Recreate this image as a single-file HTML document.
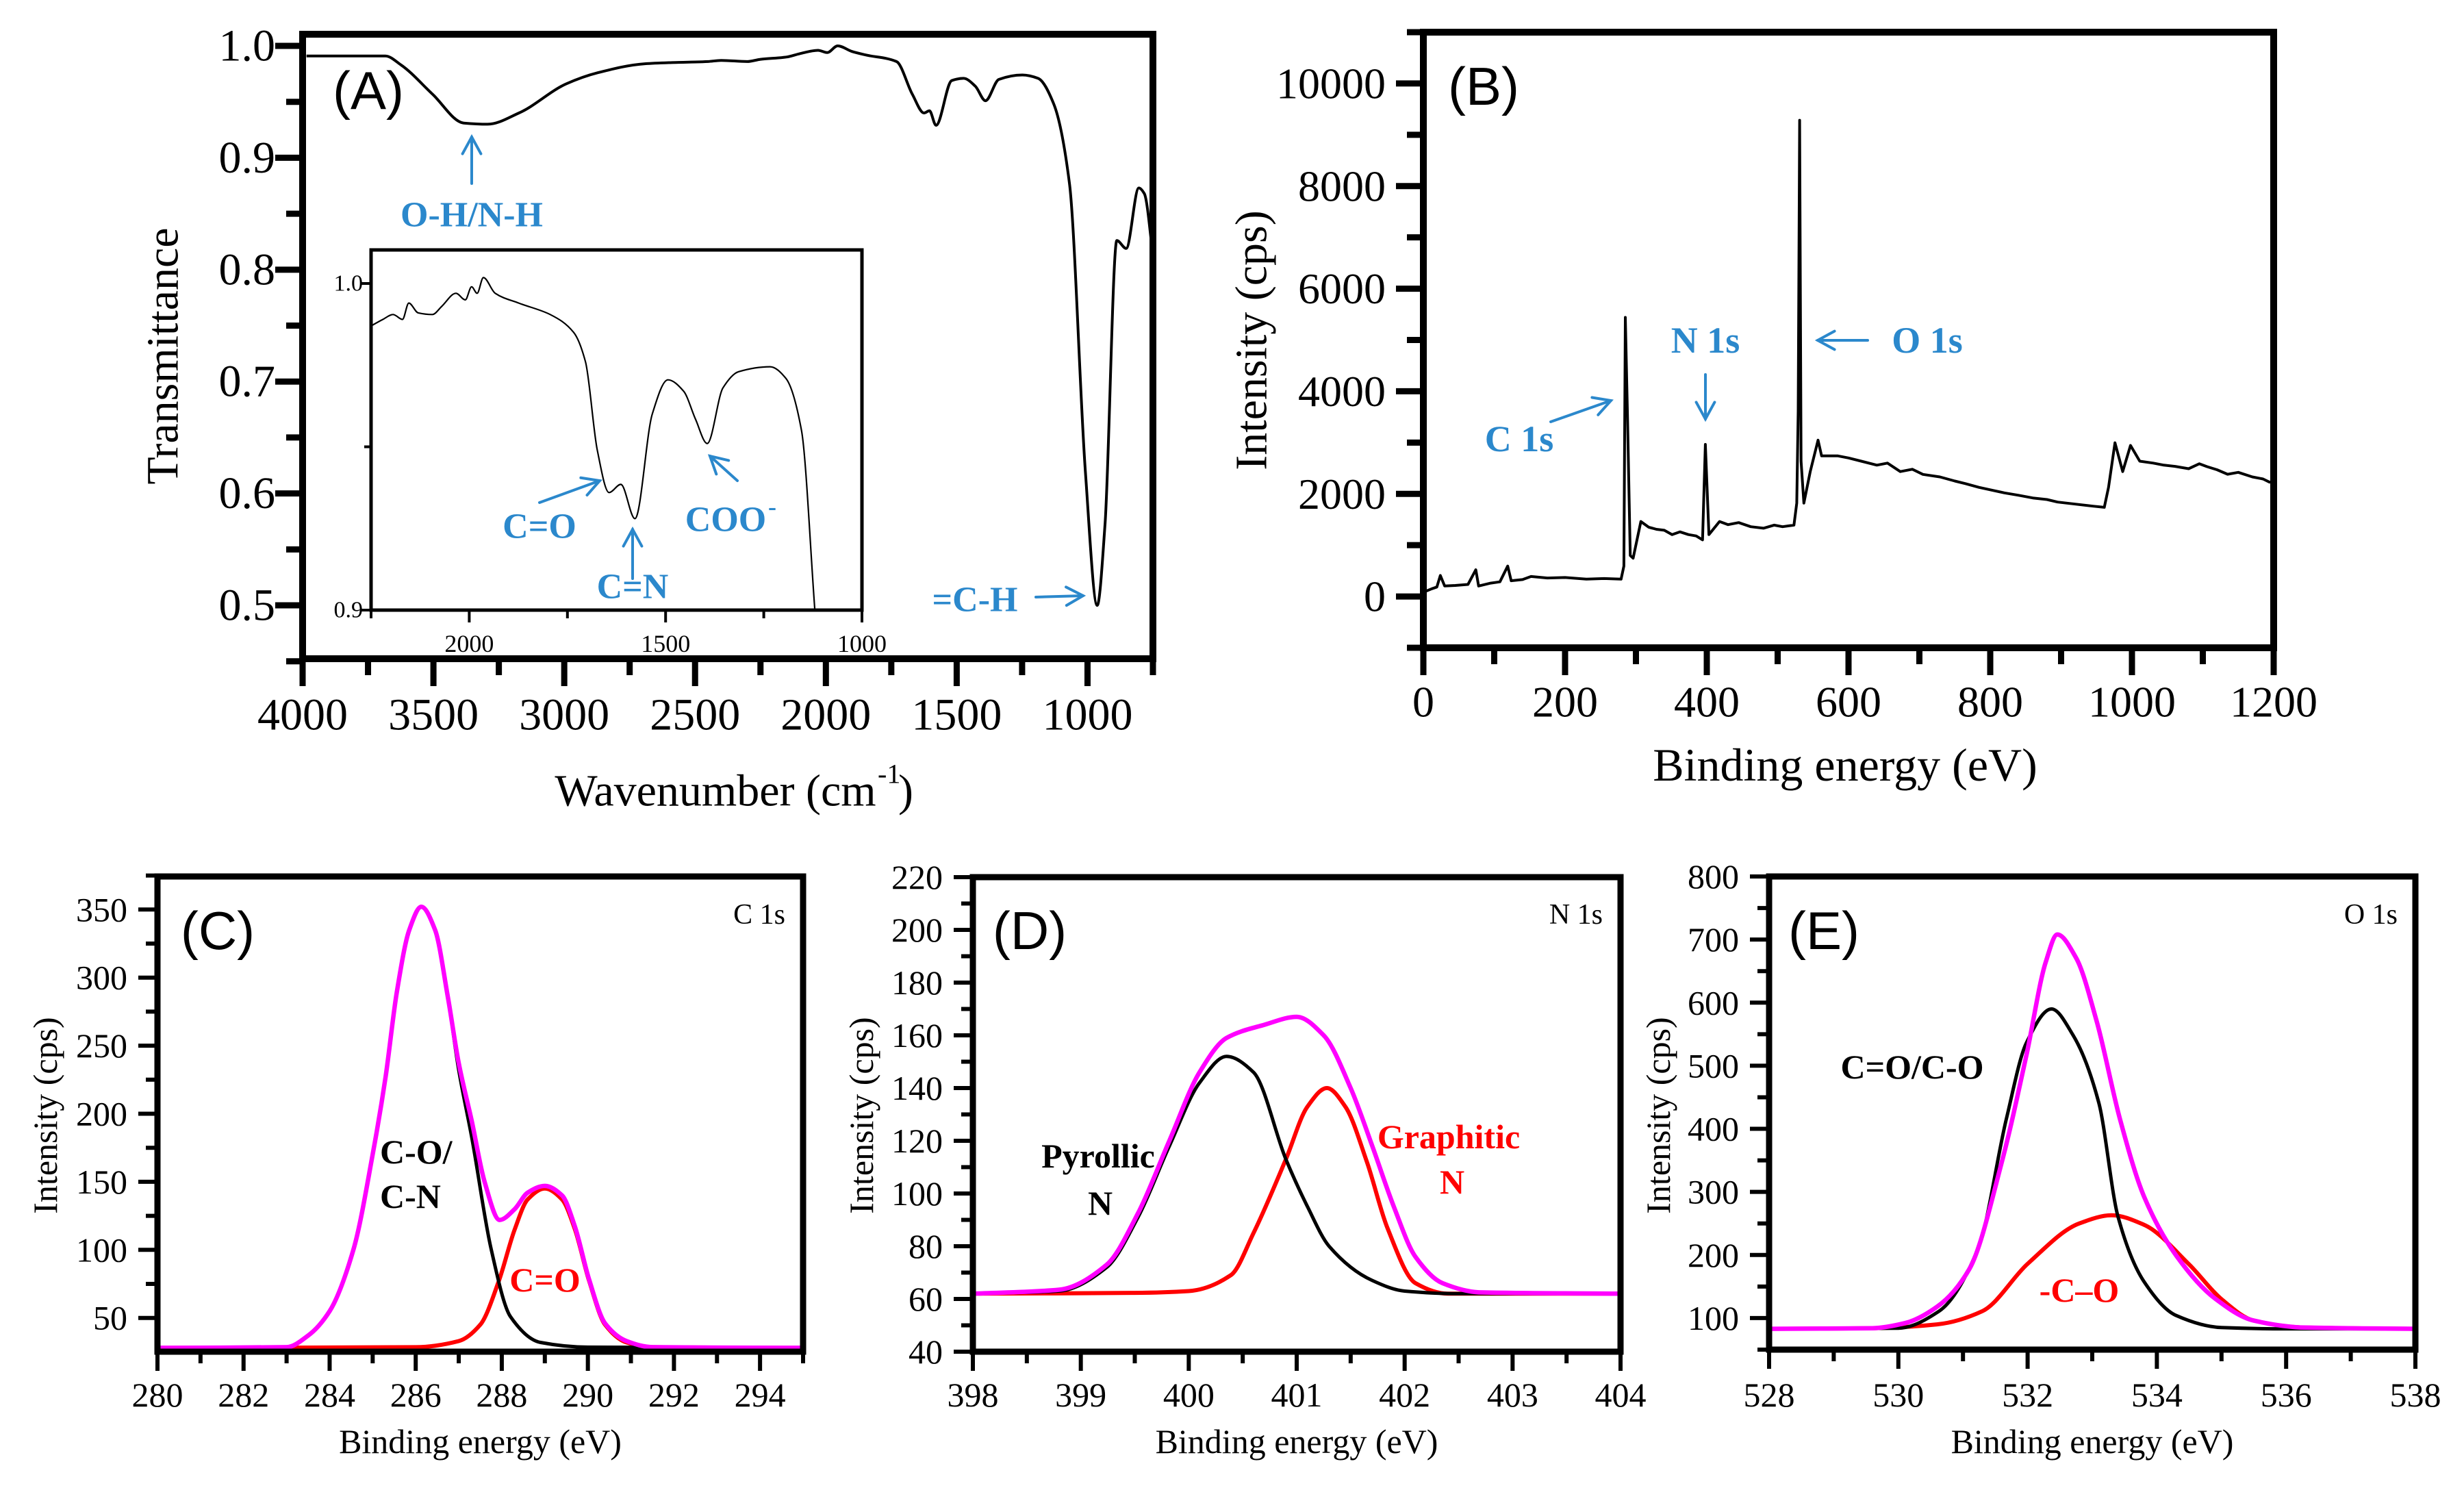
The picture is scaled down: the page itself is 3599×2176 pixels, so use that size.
<!DOCTYPE html>
<html><head><meta charset="utf-8">
<style>
html,body{margin:0;padding:0;background:#fff;}
svg{display:block;}
text{font-family:"Liberation Serif",serif;}
.sans{font-family:"Liberation Sans",sans-serif;}
</style></head>
<body>
<svg id="fig" xmlns="http://www.w3.org/2000/svg" width="3599" height="2176" viewBox="0 0 3599 2176"></svg>
<script>
// ---------- Panel A: FTIR ----------
const ftirWavenumber = [3985,3684,3624,3504,3384,3293,3173,2993,2872,2692,2600,2451,2400,2301,2250,2151,2100,2030,1995,1955,1900,1850,1730,1670,1625,1604,1579,1519,1474,1429,1390,1339,1249,1189,1129,1069,1008,963,933,888,852,804,783,747];
const ftirTransmittance = [0.991,0.991,0.983,0.957,0.931,0.930,0.940,0.966,0.976,0.984,0.985,0.986,0.987,0.986,0.988,0.990,0.993,0.996,0.994,1.0,0.995,0.992,0.986,0.957,0.940,0.942,0.929,0.969,0.971,0.964,0.951,0.970,0.974,0.971,0.948,0.877,0.619,0.500,0.573,0.826,0.819,0.873,0.868,0.807];
const insetWavenumber = [2250,2220,2194,2170,2154,2130,2094,2070,2034,2010,1994,1980,1964,1934,1874,1794,1734,1704,1674,1644,1614,1578,1534,1494,1454,1424,1394,1354,1314,1234,1194,1154,1120];
const insetTransmittance = [0.987,0.989,0.9905,0.989,0.994,0.991,0.9905,0.993,0.997,0.995,0.999,0.997,1.0018,0.997,0.994,0.9905,0.985,0.976,0.949,0.936,0.9385,0.928,0.960,0.9705,0.967,0.9585,0.951,0.968,0.973,0.9745,0.971,0.955,0.9];
const ftirXTicks = [4000,3500,3000,2500,2000,1500,1000];
const ftirYTicks = [0.5,0.6,0.7,0.8,0.9,1.0];
const ftirYTickLabels = ["0.5","0.6","0.7","0.8","0.9","1.0"];
const insetXTicks = [2000,1500,1000];
const insetYTickLabels = ["0.9","1.0"];
// ---------- Panel B: XPS survey ----------
const surveyEnergy = [3,12,19,24,30,45,63,74,78,95,108,119,124,140,152,175,200,230,255,279,283,285,288,292,296,307,318,329,340,351,362,374,385,394,398,403,418,430,445,462,480,495,507,523,527,529,531,533,537,546,557,562,585,600,618,640,655,673,690,705,729,750,765,784,800,820,840,860,880,895,920,945,961,967,976,987,998,1011,1030,1045,1061,1080,1095,1106,1120,1135,1150,1170,1185,1194,1199];
const surveyIntensity = [100,150,184,409,204,215,235,521,204,260,286,593,307,330,389,360,370,337,350,337,593,5440,3558,798,746,1462,1350,1309,1290,1207,1260,1207,1180,1104,2965,1207,1462,1400,1440,1360,1330,1390,1360,1391,1820,3609,9284,2638,1820,2434,3047,2740,2740,2700,2638,2560,2600,2434,2480,2380,2331,2250,2200,2127,2080,2020,1973,1920,1890,1840,1800,1760,1738,2127,2996,2434,2945,2638,2600,2560,2536,2490,2587,2530,2470,2382,2420,2330,2290,2229,2240];
const surveyXTicks = [0,200,400,600,800,1000,1200];
const surveyYTicks = [0,2000,4000,6000,8000,10000];
// ---------- Panel C: C 1s ----------
const c1sBlackE = [280,283,283.5,284,284.56,285,285.3,285.56,285.85,286.13,286.45,286.75,287,287.3,287.75,288.2,288.9,290,295];
const c1sBlackI = [28,28.5,37,55,101,170,227,289,335,352,335,285,232,183,101,51,32,28.5,28];
const c1sRedE = [280,286,287,287.5,287.93,288.3,288.6,289,289.4,289.7,290.03,290.4,290.9,291.5,295];
const c1sRedI = [28,28.5,33,45,77,115,137,145,137,115,77,45,32,28.5,28];
const c1sEnvE = [280,283,283.5,284,284.56,285,285.3,285.56,285.85,286.13,286.45,286.75,287,287.3,287.6,287.95,288.3,288.6,289,289.4,289.7,290.03,290.4,290.9,291.5,295];
const c1sEnvI = [28,28.5,37,55,101,170,227,289,335,352,335,285,237,195,150,122,130,142,147,140,117,78,46,33,28.5,28];
const c1sXTicks = [280,282,284,286,288,290,292,294];
const c1sYTicks = [50,100,150,200,250,300,350];
// ---------- Panel D: N 1s ----------
const n1sBlackE = [398,398.8,399.24,399.53,399.82,400.1,400.35,400.6,400.9,401.1,401.3,401.7,402.0,402.5,404];
const n1sBlackI = [62,63,72,91,118,142,152,146,113,95,80,67,63,62,62];
const n1sRedE = [398,399.5,400.0,400.39,400.6,400.9,401.1,401.28,401.45,401.65,401.84,402.1,402.4,404];
const n1sRedI = [62,62.3,63,69,85,113,133,140,133,112,87,66,62,62];
const n1sEnvE = [398,398.8,399.24,399.53,399.82,400.1,400.35,400.7,401.0,401.25,401.5,401.7,401.9,402.1,402.35,402.7,404];
const n1sEnvI = [62,63.5,73,92.5,120,146,159,164,167,160,140,118,95,76,66,62.5,62];
const n1sXTicks = [398,399,400,401,402,403,404];
const n1sYTicks = [40,60,80,100,120,140,160,180,200,220];
// ---------- Panel E: O 1s ----------
const o1sBlackE = [528,530,530.63,531.24,531.67,531.98,532.37,532.7,533.1,533.4,533.8,534.3,535.0,536,538];
const o1sBlackI = [83,84,111,212,415,536,590,549,442,260,158,104,85,83,83];
const o1sRedE = [528,529.6,530.6,531.3,532.0,532.8,533.3,533.8,534.5,535.0,535.5,536.3,538];
const o1sRedI = [83,84,90,111,186,250,263,248,185,130,96,85,83];
const o1sEnvE = [528,529.6,530.1,530.6,531.1,531.6,531.98,532.28,532.46,532.75,533.07,533.43,533.8,534.3,534.9,535.5,536.3,538];
const o1sEnvI = [83,84,92,118,178,347,516,664,708,671,570,415,293,199,131,96,85,83];
const o1sXTicks = [528,530,532,534,536,538];
const o1sYTicks = [100,200,300,400,500,600,700,800];

const NS = "http://www.w3.org/2000/svg";
const svg = document.getElementById("fig");
function mk(tag, attrs, parent){
  const e = document.createElementNS(NS, tag);
  for (const k in attrs) e.setAttribute(k, attrs[k]);
  (parent||svg).appendChild(e);
  return e;
}
function scale(d0,d1,p0,p1){ return v => p0 + (v-d0)/(d1-d0)*(p1-p0); }
// monotone cubic (Fritsch-Carlson) along pixel x
function smoothPath(pts){
  const n = pts.length;
  const dx=[], m=[];
  for (let i=0;i<n-1;i++){ dx.push(pts[i+1][0]-pts[i][0]); m.push((pts[i+1][1]-pts[i][1])/dx[i]); }
  const t=[m[0]];
  for (let i=1;i<n-1;i++){
    if (m[i-1]*m[i] <= 0) t.push(0);
    else { const w1=2*dx[i]+dx[i-1], w2=dx[i]+2*dx[i-1]; t.push((w1+w2)/(w1/m[i-1]+w2/m[i])); }
  }
  t.push(m[n-2]);
  let d = "M"+pts[0][0].toFixed(1)+","+pts[0][1].toFixed(1);
  for (let i=0;i<n-1;i++){
    const h=dx[i]/3;
    d += " C"+(pts[i][0]+h).toFixed(1)+","+(pts[i][1]+t[i]*h).toFixed(1)+" "+(pts[i+1][0]-h).toFixed(1)+","+(pts[i+1][1]-t[i+1]*h).toFixed(1)+" "+pts[i+1][0].toFixed(1)+","+pts[i+1][1].toFixed(1);
  }
  return d;
}
function linePath(pts){ return "M"+pts.map(p=>p[0].toFixed(1)+","+p[1].toFixed(1)).join(" L"); }
function series(xs, ys, sx, sy){ return xs.map((x,i)=>[sx(x), sy(ys[i])]); }
function sortX(pts){ return pts.slice().sort((a,b)=>a[0]-b[0]); }
function txt(str, x, y, size, opts, parent){
  const t = mk("text", Object.assign({x:x, y:y, "font-size":size, "dominant-baseline":"central"}, opts||{}), parent);
  t.textContent = str;
  return t;
}
function arrow(x1,y1,x2,y2,color,w,parent){
  const g = mk("g", {stroke:color, "stroke-width":w, fill:"none", "stroke-linecap":"round"}, parent);
  mk("line",{x1:x1,y1:y1,x2:x2,y2:y2},g);
  const a = Math.atan2(y2-y1,x2-x1), L=28, s=0.5;
  mk("polyline",{points:(x2-L*Math.cos(a-s))+","+(y2-L*Math.sin(a-s))+" "+x2+","+y2+" "+(x2-L*Math.cos(a+s))+","+(y2-L*Math.sin(a+s))},g);
  return g;
}
function frame(parent, L, T, R, B, bw){
  mk("rect",{x:L,y:T,width:R-L,height:B-T,fill:"none",stroke:"#000","stroke-width":bw},parent);
}
function xTicks(parent, vals, minors, sx, B, lenMaj, lenMin, w, labels, labY, fs){
  minors.forEach(v=>{ const x=sx(v); mk("line",{x1:x,y1:B,x2:x,y2:B+lenMin,stroke:"#000","stroke-width":w},parent); });
  vals.forEach((v,i)=>{ const x=sx(v); mk("line",{x1:x,y1:B,x2:x,y2:B+lenMaj,stroke:"#000","stroke-width":w},parent);
    if(labels){ txt(labels[i], x, labY, fs, {"text-anchor":"middle"}, parent); } });
}
function yTicks(parent, vals, minors, sy, L, lenMaj, lenMin, w, labels, labX, fs){
  minors.forEach(v=>{ const y=sy(v); mk("line",{x1:L,y1:y,x2:L-lenMin,y2:y,stroke:"#000","stroke-width":w},parent); });
  vals.forEach((v,i)=>{ const y=sy(v); mk("line",{x1:L,y1:y,x2:L-lenMaj,y2:y,stroke:"#000","stroke-width":w},parent);
    if(labels){ txt(labels[i], labX, y, fs, {"text-anchor":"end"}, parent); } });
}
const BLUE = "#2b88cc";

// ================= Panel A =================
const gA = mk("g",{});


const AL=442, AT=50, AR=1684, AB=962;
const axA = scale(4000,750,AL,AR), ayA = scale(0.4523,1.0104,AB,AT);
const curveA = mk("path",{d:smoothPath(sortX(series(ftirWavenumber, ftirTransmittance, axA, ayA))),fill:"none",stroke:"#000","stroke-width":4,"stroke-linejoin":"round"},gA);


const frA = mk("g",{},gA);


frame(frA, AL, AT, AR, AB, 10);
xTicks(frA, ftirXTicks, [3750,3250,2750,2250,1750,1250,750], axA, AB, 40, 24, 9, ftirXTicks.map(String), 1044, 66);
yTicks(frA, ftirYTicks, [0.45,0.55,0.65,0.75,0.85,0.95], ayA, AL, 40, 24, 9, ftirYTickLabels, 402, 66);
const aXT = txt("Wavenumber (cm", 1045, 1155, 66, {"text-anchor":"middle"}, gA);


const aSup = txt("-1", 1282, 1130, 40, {}, gA);


const aParen = txt(")", 1312, 1155, 66, {}, gA);


const aYT = txt("Transmittance", 0, 0, 66, {"text-anchor":"middle", transform:"translate(238,520) rotate(-90)"}, gA);


const aLab = txt("(A)", 538, 132, 78, {"text-anchor":"middle", "class":"sans"}, gA);


// inset
const gIn = mk("g",{},gA);


const IL=542, IT=365, IR=1259, IB=891;
const axI = scale(2250,1000,IL,IR), ayI = scale(0.9,1.0,IB,414);
const curveI = mk("path",{d:smoothPath(sortX(series(insetWavenumber, insetTransmittance, axI, ayI))),fill:"none",stroke:"#000","stroke-width":2.2,"stroke-linejoin":"round"},gIn);


frame(gIn, IL, IT, IR, IB, 5);
xTicks(gIn, insetXTicks, [2250,1750,1250], axI, IB, 18, 12, 4, insetXTicks.map(String), 940, 36);
yTicks(gIn, [0.9,1.0], [0.95], ayI, IL, 14, 10, 4, insetYTickLabels, 530, 34);
// annotations A
const annA = [["O-H/N-H",689,314],["C=O",788,769],["C=N",924,857],["COO",1060,759],["=C-H",1424,876]];
annA.forEach(a=>{
  const t = txt(a[0], a[1], a[2], 52, {"text-anchor":"middle", fill:BLUE, "font-weight":"bold"}, gA);
  
  
});
const cooSup = txt("-", 1122, 740, 36, {fill:BLUE, "font-weight":"bold"}, gA);


[[689,268,689,200],[788,734,876,702],[924,845,924,773],[1077,702,1037,666],[1513,872,1582,870]].forEach(a=>{
  const g = arrow(a[0],a[1],a[2],a[3],BLUE,4,gA);
  
  
});

// ================= Panel B =================
const gB = mk("g",{});


const BL=2079, BT=47, BR=3321, BB=946;
const axB = scale(0,1200,BL,BR), ayB = scale(-1000,11000,BB,BT);
const curveB = mk("path",{d:linePath(series(surveyEnergy, surveyIntensity, axB, ayB)),fill:"none",stroke:"#000","stroke-width":4,"stroke-linejoin":"round"},gB);


const frB = mk("g",{},gB);


frame(frB, BL, BT, BR, BB, 10);
xTicks(frB, surveyXTicks, [100,300,500,700,900,1100], axB, BB, 40, 24, 9, surveyXTicks.map(String), 1025, 64);
yTicks(frB, surveyYTicks, [-1000,1000,3000,5000,7000,9000,11000], ayB, BL, 40, 24, 9, surveyYTicks.map(String), 2024, 64);
const bXT = txt("Binding energy (eV)", 2695, 1117, 68, {"text-anchor":"middle"}, gB);


const bYT = txt("Intensity (cps)", 0, 0, 66, {"text-anchor":"middle", transform:"translate(1828,497) rotate(-90)"}, gB);


const bLab = txt("(B)", 2167, 126, 78, {"text-anchor":"middle", "class":"sans"}, gB);


[["C 1s",2219,641],["N 1s",2491,497],["O 1s",2815,497]].forEach(a=>{
  const t = txt(a[0], a[1], a[2], 54, {"text-anchor":"middle", fill:BLUE, "font-weight":"bold"}, gB);
  
  
});
[[2265,616,2353,585],[2491,547,2491,612],[2728,497,2655,497]].forEach(a=>{
  const g = arrow(a[0],a[1],a[2],a[3],BLUE,4,gB);
  
  
});

// ================= Bottom panels =================
function bottomPanel(cfg){
  const g = mk("g",{});
  
  
  const sx = scale(cfg.x0,cfg.x1,cfg.L,cfg.R), sy = scale(cfg.y0,cfg.y1,cfg.B,cfg.T);
  const clip = mk("clipPath",{id:"clip-"+cfg.name},g);
  mk("rect",{x:cfg.L,y:cfg.T,width:cfg.R-cfg.L,height:cfg.B-cfg.T},clip);
  const cg = mk("g",{"clip-path":"url(#clip-"+cfg.name+")"},g);
  const pRed = mk("path",{d:smoothPath(series(cfg.redE,cfg.redI,sx,sy)),fill:"none",stroke:"#ff0000","stroke-width":6},cg);
  
  
  const pBlk = mk("path",{d:smoothPath(series(cfg.blackE,cfg.blackI,sx,sy)),fill:"none",stroke:"#000","stroke-width":5},cg);
  
  
  const pEnv = mk("path",{d:smoothPath(series(cfg.envE,cfg.envI,sx,sy)),fill:"none",stroke:"#ff00ff","stroke-width":6.5},cg);
  
  
  const ax = mk("g",{},g);
  
  
  frame(ax, cfg.L, cfg.T, cfg.R, cfg.B, 9);
  xTicks(ax, cfg.xt, cfg.xm, sx, cfg.B, 28, 17, 6, cfg.xt.map(String), 2037, 50);
  yTicks(ax, cfg.yt, cfg.ym, sy, cfg.L, 28, 17, 6, cfg.yt.map(String), cfg.L-44, 50);
  const xt = txt("Binding energy (eV)", (cfg.L+cfg.R)/2, 2105, 50, {"text-anchor":"middle"}, g);
  
  
  const yt = txt("Intensity (cps)", 0, 0, 50, {"text-anchor":"middle", transform:"translate("+cfg.ytx+",1629) rotate(-90)"}, g);
  
  
  const pl = txt(cfg.label, cfg.labX, 1359, 78, {"text-anchor":"middle","class":"sans"}, g);
  
  
  const cl = txt(cfg.core, cfg.R-26, 1336, 42, {"text-anchor":"end"}, g);
  
  
  cfg.notes.forEach(n=>{
    const t = txt(n[0], n[1], n[2], 50, {"text-anchor":n[4]||"middle", fill:n[3], "font-weight":"bold"}, g);
    
    
  });
}
function rng(a,b,s){ const r=[]; for(let v=a; v<=b+1e-9; v+=s) r.push(+v.toFixed(3)); return r; }
bottomPanel({name:"panel-c-c1s", L:230,T:1280,R:1173,B:1974, x0:280,x1:295,y0:25.2,y1:374.3,
  blackE:c1sBlackE,blackI:c1sBlackI,redE:c1sRedE,redI:c1sRedI,envE:c1sEnvE,envI:c1sEnvI,
  xt:c1sXTicks, xm:rng(281,295,2), yt:c1sYTicks, ym:rng(75,375,50), ytx:66, label:"(C)", labX:318, core:"C 1s",
  notes:[["C-O/",555,1682,"#000","start"],["C-N",555,1747,"#000","start"],["C=O",796,1869,"#ff0000"]]});
bottomPanel({name:"panel-d-n1s", L:1421,T:1281,R:2367,B:1974, x0:398,x1:404,y0:40,y1:220,
  blackE:n1sBlackE,blackI:n1sBlackI,redE:n1sRedE,redI:n1sRedI,envE:n1sEnvE,envI:n1sEnvI,
  xt:n1sXTicks, xm:rng(398.5,403.5,1), yt:n1sYTicks, ym:rng(50,210,20), ytx:1258, label:"(D)", labX:1504, core:"N 1s",
  notes:[["Pyrollic",1604,1688,"#000"],["N",1607,1757,"#000"],["Graphitic",2116,1660,"#ff0000"],["N",2121,1726,"#ff0000"]]});
bottomPanel({name:"panel-e-o1s", L:2584,T:1280,R:3528,B:1971, x0:528,x1:538,y0:50,y1:800,
  blackE:o1sBlackE,blackI:o1sBlackI,redE:o1sRedE,redI:o1sRedI,envE:o1sEnvE,envI:o1sEnvI,
  xt:o1sXTicks, xm:rng(529,537,2), yt:o1sYTicks, ym:rng(50,750,100), ytx:2422, label:"(E)", labX:2664, core:"O 1s",
  notes:[["C=O/C-O",2793,1558,"#000"],["-C\u2013O",3037,1884,"#ff0000"]]});
</script>
</body></html>
